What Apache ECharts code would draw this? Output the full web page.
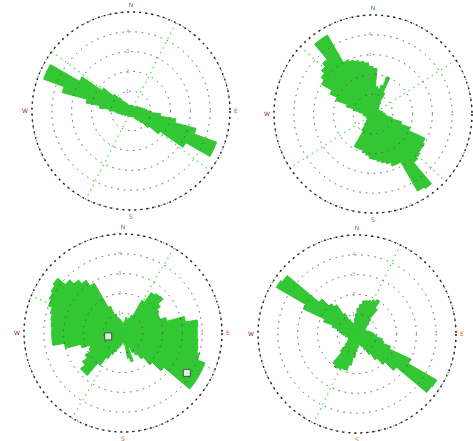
<!DOCTYPE html>
<html>
<head>
<meta charset="utf-8">
<script src="https://cdn.jsdelivr.net/npm/echarts@6/dist/echarts.min.js"></script>
<style>
  html, body { margin: 0; padding: 0; background: #fff; }
  #chart { width: 473px; height: 441px; }
</style>
</head>
<body>
<div id="chart"></div>
<script>
// direction bins, 5 degrees each, clockwise from north
const dirs = ['0', '5', '10', '15', '20', '25', '30', '35', '40', '45', '50', '55',
  '60', '65', '70', '75', '80', '85', '90', '95', '100', '105', '110', '115',
  '120', '125', '130', '135', '140', '145', '150', '155', '160', '165', '170', '175',
  '180', '185', '190', '195', '200', '205', '210', '215', '220', '225', '230', '235',
  '240', '245', '250', '255', '260', '265', '270', '275', '280', '285', '290', '295',
  '300', '305', '310', '315', '320', '325', '330', '335', '340', '345', '350', '355']

// petal lengths (ring units, outer ring = 5)
const rose1 = [0.2, 0.3, 0.2, 0.3, 0.2, 0.1, 0.2, 0.3, 0.2, 0.3, 0.4, 0.3,
  0.4, 0.5, 0.5, 0.6, 0.7, 0.8, 1.0, 1.5, 2.3, 3.4, 4.6, 4.6,
  3.2, 1.8, 1.2, 0.8, 0.6, 0.5, 0.4, 0.3, 0.3, 0.2, 0.2, 0.3,
  0.2, 0.3, 0.2, 0.2, 0.3, 0.1, 0.2, 0.3, 0.2, 0.3, 0.4, 0.3,
  0.4, 0.5, 0.5, 0.6, 0.7, 0.8, 1.1, 1.6, 2.3, 3.6, 4.7, 4.7,
  3.0, 1.8, 1.2, 0.9, 0.6, 0.5, 0.4, 0.3, 0.3, 0.2, 0.3, 0.2]
const rose2 = [2.3, 1.4, 1.3, 1.5, 2.0, 1.2, 0.7, 0.5, 0.4, 0.4, 0.3, 0.3,
  0.4, 0.3, 0.4, 0.5, 0.5, 0.6, 0.6, 0.7, 1.0, 1.5, 2.0, 2.9,
  3.0, 3.0, 3.1, 3.2, 4.6, 4.5, 2.8, 2.8, 2.6, 2.5, 2.4, 2.3,
  2.25, 2.1, 2.0, 1.9, 1.9, 1.9, 1.0, 0.7, 0.5, 0.4, 0.3, 0.4,
  0.3, 0.3, 0.4, 0.4, 0.5, 0.5, 0.5, 0.7, 1.0, 1.4, 2.0, 2.4,
  3.0, 3.2, 3.4, 3.6, 4.6, 4.6, 3.0, 2.9, 2.8, 2.7, 2.6, 2.4]
const rose3 = [0.5, 0.6, 0.8, 0.7, 0.8, 1.0, 1.9, 2.5, 2.6, 2.65, 2.3, 2.1,
  2.0, 2.0, 2.3, 3.2, 3.8, 3.75, 3.75, 3.8, 3.85, 4.0, 4.4, 4.4,
  4.4, 4.4, 2.7, 2.1, 1.6, 1.3, 1.1, 0.8, 1.5, 1.3, 0.6, 0.5,
  0.5, 0.6, 0.7, 0.8, 1.0, 1.2, 1.5, 2.0, 2.8, 2.8, 2.5, 2.2,
  1.9, 1.8, 2.2, 3.0, 3.6, 3.6, 3.6, 3.65, 3.7, 3.8, 4.0, 4.1,
  4.2, 4.3, 3.8, 3.5, 3.25, 2.9, 1.5, 1.0, 0.8, 0.7, 0.6, 0.5]
const rose4 = [1.3, 1.5, 1.7, 1.75, 1.8, 1.9, 2.0, 1.6, 1.0, 0.8, 0.6, 0.5,
  0.5, 0.4, 0.5, 0.6, 0.7, 0.8, 0.9, 1.0, 1.3, 1.4, 1.8, 3.0,
  4.65, 4.6, 2.6, 2.0, 1.6, 1.2, 0.9, 0.7, 0.6, 0.5, 0.6, 0.7,
  0.9, 1.2, 1.6, 1.9, 1.9, 1.95, 2.0, 1.9, 1.2, 0.8, 0.6, 0.5,
  0.5, 0.4, 0.5, 0.6, 0.6, 0.7, 0.8, 0.9, 1.0, 1.3, 1.8, 3.0,
  4.7, 4.6, 2.5, 2.0, 1.8, 1.2, 0.8, 0.6, 0.5, 0.6, 0.8, 1.0]

// dotted green guide directions (degrees)
const guide1 = [27, 307]
const guide2 = [57, 313]
const guide3 = [31, 112]
const guide4 = [26]

// marked samples in the third diagram: [radius, bearing]
const marks3 = [[0.77, 257], [3.8, 122]]

const ringTicks = ['', '1', '2', '3', '4', '']
const compass = { 0: '{n|N}', 90: '{e|E}', 180: '{s|S}', 270: '{w|W}' }

const panels = [
  { center: [131, 111], rose: rose1, guides: guide1 },
  { center: [373, 114], rose: rose2, guides: guide2 },
  { center: [123, 333], rose: rose3, guides: guide3, marks: marks3 },
  { center: [357, 334], rose: rose4, guides: guide4 }
]

const R = 99
const polar = []
const angleAxis = []
const radiusAxis = []
const series = []

panels.forEach((p, k) => {
  const a = k * 2
  const b = k * 2 + 1
  polar.push({ center: p.center, radius: R })
  polar.push({ center: p.center, radius: R })

  // bars live on a category angle axis
  angleAxis.push({
    polarIndex: a,
    type: 'category',
    data: dirs,
    startAngle: 90,
    clockwise: true,
    axisLine: { show: false },
    axisTick: { show: false },
    axisLabel: { show: false },
    splitLine: { show: false }
  })
  radiusAxis.push({
    polarIndex: a,
    min: 0,
    max: 5,
    axisLine: { show: false },
    axisTick: { show: false },
    axisLabel: { show: false },
    splitLine: { show: false }
  })

  // the frame: rings and compass labels drawn on top
  angleAxis.push({
    polarIndex: b,
    type: 'value',
    min: 0,
    max: 360,
    interval: 90,
    startAngle: 90,
    clockwise: true,
    z: 5,
    axisLine: { lineStyle: { color: '#222', width: 1.4, type: [2, 4] } },
    axisTick: { show: false },
    splitLine: { show: false },
    axisLabel: {
      margin: 4,
      fontSize: 6,
      fontFamily: 'DejaVu Sans',
      formatter: v => compass[v] || '',
      rich: {
        n: { color: '#3b78c4', fontSize: 6 },
        e: { color: '#c0601a', fontSize: 6 },
        s: { color: '#c0601a', fontSize: 6 },
        w: { color: '#8a2a1a', fontSize: 6 }
      }
    }
  })
  radiusAxis.push({
    polarIndex: b,
    min: 0,
    max: 5,
    interval: 1,
    z: 5,
    axisLine: { show: false },
    axisTick: { show: false },
    axisLabel: {
      fontSize: 5,
      color: '#999',
      margin: 2,
      formatter: (v, i) => ringTicks[i] || ''
    },
    splitLine: { lineStyle: { color: '#555', width: 1, type: [1.5, 5] } }
  })

  series.push({
    type: 'bar',
    coordinateSystem: 'polar',
    polarIndex: a,
    data: p.rose,
    barCategoryGap: '0%',
    itemStyle: { color: '#33c833', borderColor: '#33c833', borderWidth: 1 },
    z: 2
  })

  p.guides.forEach(g => {
    series.push({
      type: 'line',
      coordinateSystem: 'polar',
      polarIndex: b,
      data: [[5, g], [5, g + 180]],
      symbol: 'none',
      silent: true,
      lineStyle: { color: '#4be84b', width: 1.3, type: [1.5, 4] },
      z: 1
    })
  })

  if (p.marks) {
    series.push({
      type: 'scatter',
      coordinateSystem: 'polar',
      polarIndex: b,
      data: p.marks,
      symbol: 'rect',
      symbolSize: 7,
      itemStyle: { color: '#fff', borderColor: '#333', borderWidth: 1 },
      z: 10
    })
  }
})

const chart = echarts.init(document.getElementById('chart'))
chart.setOption({
  animation: false,
  backgroundColor: '#fff',
  polar,
  angleAxis,
  radiusAxis,
  series
})
</script>
</body>
</html>
